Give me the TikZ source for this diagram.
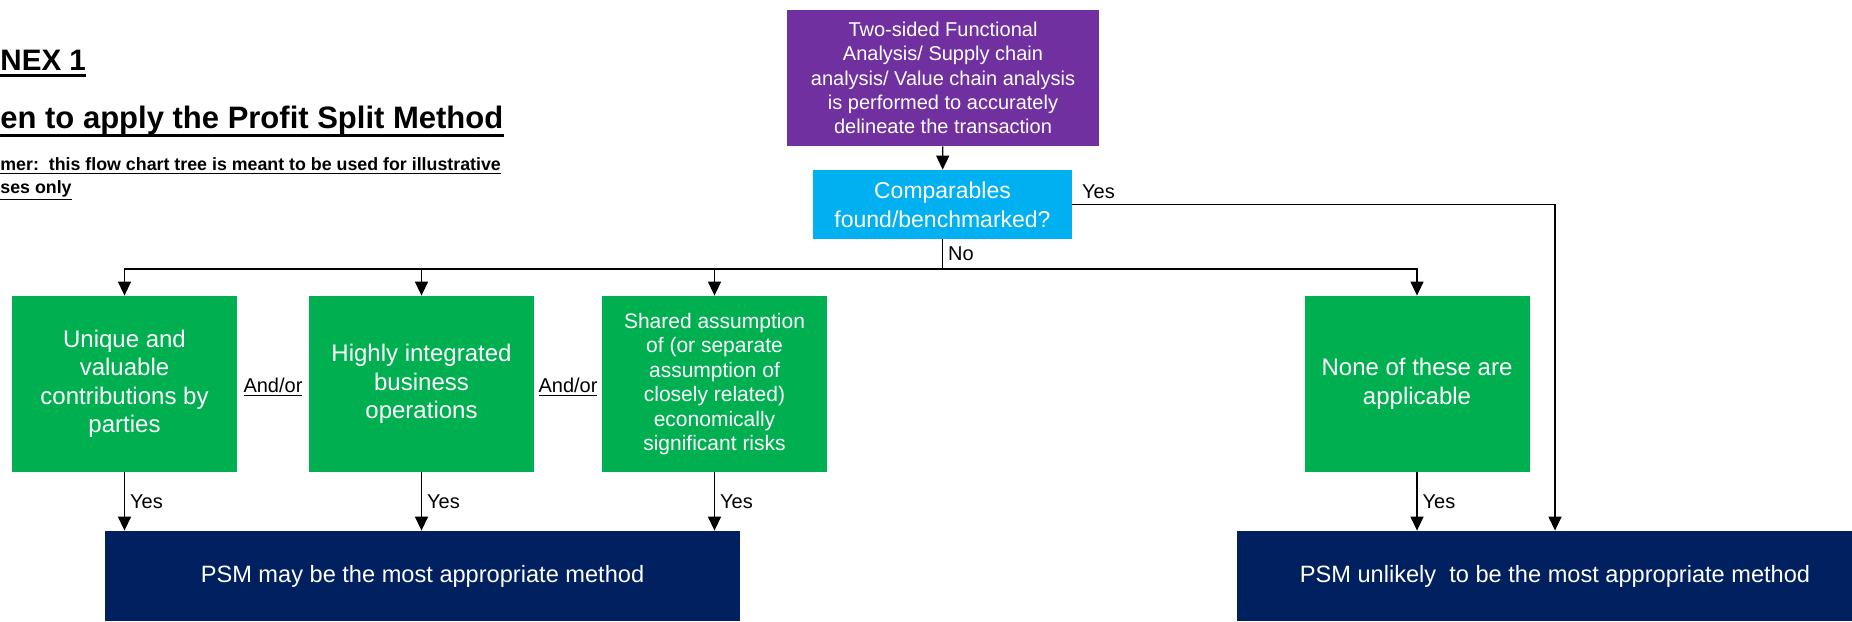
\documentclass[tikz,border=0pt]{standalone}
\usepackage{fontspec}
\setmainfont{Liberation Sans}
\usetikzlibrary{positioning,arrows.meta}

\definecolor{fapurple}{HTML}{7030A0}
\definecolor{cmpcyan}{HTML}{00B0F0}
\definecolor{critgreen}{HTML}{00B050}
\definecolor{psmnavy}{HTML}{002060}

\tikzset{
  box/.style={fill=#1, text=white, align=center, inner sep=0pt},
  critbox/.style={box=critgreen, minimum width=112.5pt, minimum height=88pt, font=\fontsize{12}{14.25}\selectfont},
  psmbox/.style={box=psmnavy, minimum height=45pt, font=\fontsize{11.8}{14}\selectfont},
  arr/.style={-{Triangle[length=7pt,width=6.5pt]}, line width=0.7pt},
  lbl/.style={font=\fontsize{10}{12}\selectfont, inner sep=2.5pt},
  head/.style={anchor=base west, inner sep=0pt, font=\bfseries\fontsize{#1}{19}\selectfont},
}

\begin{document}
\begin{tikzpicture}[x=0.5pt, y=-0.5pt]
  \useasboundingbox (0,0) rectangle (1852,621);
  \clip (0,0) rectangle (1852,621);

  % heading
  \node[head=14.8] (annex) at (0,70) {NEX 1};
  \node[head=15.5] (when) at (0,128) {en to apply the Profit Split Method};
  \node[head=8.9] (discl1) at (0,170) {\underline{mer:\ \ this flow chart tree is meant to be used for illustrative}};
  \node[head=8.9] (discl2) at (0,193) {\underline{ses only}};
  \draw[line width=1.4pt] ([yshift=-2.8pt]annex.base west) -- ([yshift=-2.8pt]annex.base east);
  \draw[line width=1.4pt] ([yshift=-3.6pt]when.base west) -- ([yshift=-3.6pt]when.base east);

  % top of the tree
  \node[box=fapurple, minimum width=156pt, minimum height=68pt, font=\fontsize{10}{12.15}\selectfont] (fa) at (943,78)
    {Two-sided Functional\\Analysis/ Supply chain\\analysis/ Value chain analysis\\is performed to accurately\\delineate the transaction};
  \node[box=cmpcyan, minimum width=129.5pt, minimum height=34.5pt, font=\fontsize{11.5}{14.5}\selectfont] (cmp) at (942.5,204.5)
    {Comparables\\found/benchmarked?};

  % the three indicators and the fallback
  \node[critbox] (uvc) at (124.5,384) {Unique and\\valuable\\contributions by\\parties};
  \node[critbox] (hio) at (421.5,384) {Highly integrated\\business\\operations};
  \node[critbox, font=\fontsize{10.5}{12.25}\selectfont] (ssr) at (714.5,384)
    {Shared assumption\\of (or separate\\assumption of\\closely related)\\economically\\significant risks};
  \node[critbox] (non) at (1417,384) {None of these are\\applicable};

  \node[lbl] (andor1) at (273,387) {\underline{And/or}};
  \node[lbl] (andor2) at (568,387) {\underline{And/or}};

  % outcomes
  \node[psmbox, minimum width=317.5pt] (may) at (422.5,576) {PSM may be the most appropriate method};
  \node[psmbox, minimum width=318pt] (unl) at (1555,576) {PSM unlikely\ \ to be the most appropriate method};

  % connectors
  \coordinate (bus) at (942.5,269);
  \draw[arr] (fa) -- (cmp);
  \draw[line width=0.7pt] (cmp) -- node[lbl, right] {No} (bus);
  \draw[arr] (bus) -| (uvc);
  \draw[arr] (bus) -| (hio);
  \draw[arr] (bus) -| (ssr);
  \draw[arr] (bus) -| (non);
  \draw[arr] (cmp) -| node[lbl, pos=0, anchor=south west, xshift=2pt] {Yes} (unl);

  \draw[arr] (uvc) -- node[lbl, right] {Yes} (uvc |- may.north);
  \draw[arr] (hio) -- node[lbl, right] {Yes} (hio |- may.north);
  \draw[arr] (ssr) -- node[lbl, right] {Yes} (ssr |- may.north);
  \draw[arr] (non) -- node[lbl, right] {Yes} (non |- unl.north);
\end{tikzpicture}
\end{document}
